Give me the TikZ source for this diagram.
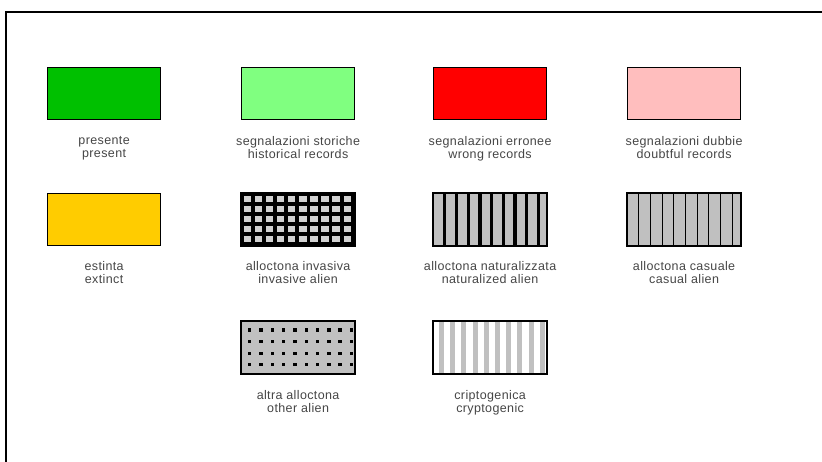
\documentclass[tikz,border=0pt]{standalone}
\usepackage{fontspec}
\setmainfont[LetterSpace=3]{Liberation Sans}
\usetikzlibrary{calc}
\definecolor{cgreen}{RGB}{0,192,0}
\definecolor{clgreen}{RGB}{128,255,128}
\definecolor{cred}{RGB}{255,0,0}
\definecolor{cpink}{RGB}{255,190,190}
\definecolor{cyellow}{RGB}{255,204,0}
\definecolor{cgray}{RGB}{192,192,192}
\definecolor{clight}{RGB}{210,210,210}
\definecolor{ctext}{RGB}{70,70,70}
\begin{document}
\begin{tikzpicture}[x=1pt,y=-1pt,
  legbox/.style={draw=black,line width=1.2pt,minimum width=113pt,minimum height=52pt,inner sep=0pt,anchor=north west},
  leglabel/.style={anchor=north,align=center,text=ctext,font=\fontsize{12.5}{13}\selectfont,inner sep=0pt}]
\useasboundingbox (0,0) rectangle (822,462);
\fill[white] (0,0) rectangle (822,462);
\coordinate (fa) at (6,470);
\coordinate (fb) at (6,12);
\coordinate (fc) at (830,12);
\draw[line width=1.6pt] (fa) -- (fb) -- (fc);
% row 1
\node[legbox,fill=cgreen] (b1) at (47,67) {};
\node[legbox,fill=clgreen] (b2) at (241,67) {};
\node[legbox,fill=cred] (b3) at (433,67) {};
\node[legbox,fill=cpink] (b4) at (627,67) {};
% row 2
\node[legbox,fill=cyellow] (b5) at (47,193) {};
\node[legbox,fill=black] (b6) at (241,193) {};
\node[legbox,fill=cgray] (b7) at (433,193) {};
\node[legbox,fill=cgray] (b8) at (627,193) {};
% row 3
\node[legbox,fill=cgray] (b9) at (241,321) {};
\node[legbox,fill=white] (b10) at (433,321) {};
% patterns
\begin{scope}
\clip (b6.north west) rectangle (b6.south east);
\foreach \i in {0,...,9}{
  \foreach \j in {0,...,4}{
    \fill[clight] ($(b6.north west)+(2.6+\i*11.1,2.6+\j*10.1)$) rectangle ++(7.4,6.5);
  }}
\end{scope}
\begin{scope}
\foreach \i in {1,...,9}{
  \fill[black] ($(b7.north west)+(\i*11.7-1.6,0)$) rectangle ++(3.3,52);
}
\end{scope}
\begin{scope}
\foreach \i in {1,...,9}{
  \draw[black,line width=1.1pt] ($(b8.north west)+(\i*11.7,0)$) -- ++(0,52);
}
\end{scope}
\begin{scope}
\foreach \i in {0,...,9}{
  \foreach \j in {0,...,3}{
    \fill[black] ($(b9.north west)+(7+\i*11.3,7.5+\j*11.5)$) rectangle ++(3.4,3.4);
  }}
\end{scope}
\begin{scope}
\foreach \i in {0,...,9}{
  \fill[cgray] ($(b10.north west)+(6+\i*11.2,0)$) rectangle ++(5,52);
}
\end{scope}
\foreach \b in {b6,b7,b8,b9,b10}{
  \draw[line width=1.2pt] (\b.north west) rectangle (\b.south east);
}
% labels
\node[leglabel] (t1) at ($(b1.south)+(0,16)$) {presente\\present};
\node[leglabel] (t2) at ($(b2.south)+(0,16)$) {segnalazioni storiche\\historical records};
\node[leglabel] (t3) at ($(b3.south)+(0,16)$) {segnalazioni erronee\\wrong records};
\node[leglabel] (t4) at ($(b4.south)+(0,16)$) {segnalazioni dubbie\\doubtful records};
\node[leglabel] (t5) at ($(b5.south)+(0,15)$) {estinta\\extinct};
\node[leglabel] (t6) at ($(b6.south)+(0,15)$) {alloctona invasiva\\invasive alien};
\node[leglabel] (t7) at ($(b7.south)+(0,15)$) {alloctona naturalizzata\\naturalized alien};
\node[leglabel] (t8) at ($(b8.south)+(0,15)$) {alloctona casuale\\casual alien};
\node[leglabel] (t9) at ($(b9.south)+(0,16)$) {altra alloctona\\other alien};
\node[leglabel] (t10) at ($(b10.south)+(0,16)$) {criptogenica\\cryptogenic};
\end{tikzpicture}
\end{document}
